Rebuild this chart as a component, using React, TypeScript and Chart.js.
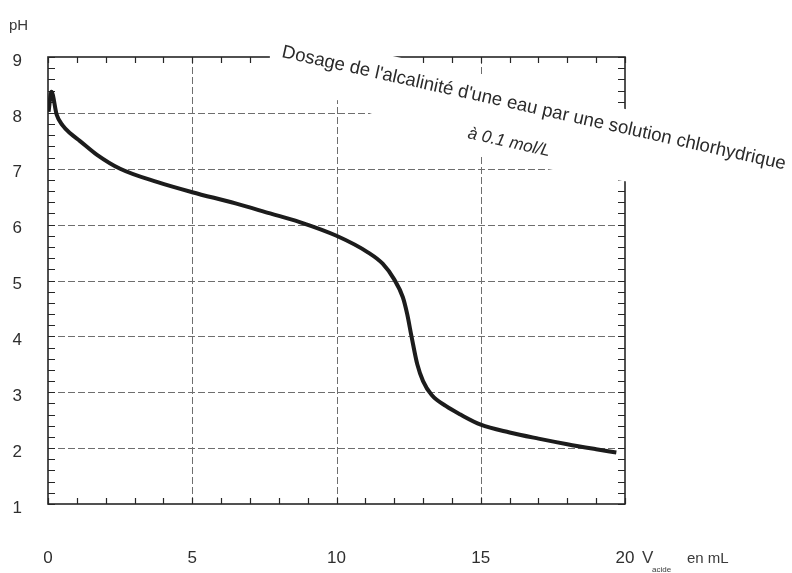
import React, { useEffect, useRef } from "react";
import { Chart, registerables } from "chart.js";

Chart.register(...registerables);

// ---- Data ----
const volumesML = [
  0.02, 0.12, 0.3, 0.5, 0.8, 1.1, 1.7, 2.5, 3.8, 5.0, 6.5, 7.7, 8.7, 10.0, 11.1,
  11.6, 12.0, 12.3, 12.45, 12.6, 12.8, 13.0, 13.3, 13.8, 14.3, 15.0, 16.0, 17.0,
  18.0, 19.0, 19.7,
];
const phValues = [
  8.02, 8.38, 7.97, 7.78, 7.62, 7.5, 7.25, 7.0, 6.76, 6.58, 6.38, 6.2, 6.05, 5.8,
  5.5, 5.3, 5.02, 4.7, 4.4, 4.0, 3.5, 3.2, 2.95, 2.75, 2.6, 2.42, 2.28, 2.17,
  2.07, 1.98, 1.92,
];

// axes
const xMin = 0;
const xMax = 20;
const xLabelStep = 5;
const xGridValues = [5, 10, 15];
const xMinorStep = 1;
const yMin = 1;
const yMax = 9;
const yLabelStep = 1;
const yGridValues = [2, 3, 4, 5, 6, 7, 8];
const yMinorStep = 0.2;

// texts
const titleLine1 = "Dosage de l'alcalinité d'une eau par une solution chlorhydrique";
const titleLine2 = "à 0.1 mol/L";
const yAxisTitle = "pH";
const xAxisTitleMain = "V";
const xAxisTitleSub = "acide";
const xAxisTitleUnit = "en mL";

// title anchors (in data units) and white backing under the title
const title1Anchor = [8.08, 9.0];
const title2Anchor = [14.52, 7.55];
const titleAngleDeg = 12.6;
const maskV = [7.69, 25.8, 25.8, 19.9, 18.16, 15.04, 11.23, 10.02, 7.69];
const maskPH = [9.52, 7.39, 6.53, 6.78, 6.91, 7.23, 7.98, 8.23, 8.71];

const FONT = '"Liberation Sans", Arial, sans-serif';

const decorPlugin = {
  id: "decor",
  beforeDatasetsDraw(chart: any) {
    const { ctx, chartArea: a, scales } = chart;
    const x = scales.x;
    const y = scales.y;
    ctx.save();
    // dashed grid
    ctx.strokeStyle = "#6e6e6e";
    ctx.lineWidth = 1;
    ctx.setLineDash([7, 3]);
    ctx.beginPath();
    for (const v of xGridValues) {
      const px = Math.round(x.getPixelForValue(v)) + 0.5;
      ctx.moveTo(px, a.top);
      ctx.lineTo(px, a.bottom);
    }
    for (const p of yGridValues) {
      const py = Math.round(y.getPixelForValue(p)) + 0.5;
      ctx.moveTo(a.left, py);
      ctx.lineTo(a.right, py);
    }
    ctx.stroke();
    ctx.setLineDash([]);
    // frame
    ctx.strokeStyle = "#262626";
    ctx.lineWidth = 1.6;
    ctx.strokeRect(a.left, a.top, a.right - a.left, a.bottom - a.top);
    // minor ticks
    ctx.lineWidth = 1.2;
    ctx.beginPath();
    const nx = Math.round((xMax - xMin) / xMinorStep);
    for (let i = 0; i <= nx; i++) {
      const px = Math.round(x.getPixelForValue(xMin + i * xMinorStep)) + 0.5;
      ctx.moveTo(px, a.bottom);
      ctx.lineTo(px, a.bottom - 6);
      ctx.moveTo(px, a.top);
      ctx.lineTo(px, a.top + 6);
    }
    const ny = Math.round((yMax - yMin) / yMinorStep);
    for (let i = 0; i <= ny; i++) {
      const py = Math.round(y.getPixelForValue(yMin + i * yMinorStep)) + 0.5;
      ctx.moveTo(a.left, py);
      ctx.lineTo(a.left + 7, py);
      ctx.moveTo(a.right, py);
      ctx.lineTo(a.right - 7, py);
    }
    ctx.stroke();
    ctx.restore();
  },
  afterDatasetsDraw(chart: any) {
    const { ctx, chartArea: a, scales } = chart;
    const x = scales.x;
    const y = scales.y;
    ctx.save();
    // white backing under the title
    ctx.fillStyle = "#ffffff";
    ctx.beginPath();
    maskV.forEach((v, i) => {
      const px = x.getPixelForValue(v);
      const py = y.getPixelForValue(maskPH[i]);
      if (i === 0) ctx.moveTo(px, py);
      else ctx.lineTo(px, py);
    });
    ctx.closePath();
    ctx.fill();

    // rotated title
    const rot = (titleAngleDeg * Math.PI) / 180;
    ctx.fillStyle = "#2a2a2a";
    ctx.textBaseline = "alphabetic";
    ctx.textAlign = "left";
    ctx.font = `18.6px ${FONT}`;
    ctx.save();
    ctx.translate(x.getPixelForValue(title1Anchor[0]), y.getPixelForValue(title1Anchor[1]));
    ctx.rotate(rot);
    ctx.fillText(titleLine1, 0, 0);
    ctx.restore();
    ctx.save();
    ctx.font = `italic 17px ${FONT}`;
    ctx.translate(x.getPixelForValue(title2Anchor[0]), y.getPixelForValue(title2Anchor[1]));
    ctx.rotate(rot);
    ctx.fillText(titleLine2, 0, 0);
    ctx.restore();

    // y-axis title
    ctx.fillStyle = "#3a3a3a";
    ctx.font = `15px ${FONT}`;
    ctx.fillText(yAxisTitle, a.left - 39, a.top - 27);

    // x-axis title
    ctx.font = `17px ${FONT}`;
    ctx.fillText(xAxisTitleMain, a.right + 17, a.bottom + 59);
    ctx.font = `8px ${FONT}`;
    ctx.fillText(xAxisTitleSub, a.right + 27, a.bottom + 68);
    ctx.font = `15px ${FONT}`;
    ctx.fillText(xAxisTitleUnit, a.right + 62, a.bottom + 59);
    ctx.restore();
  },
};

export default function App() {
  const canvasRef = useRef<HTMLCanvasElement | null>(null);

  useEffect(() => {
    document.body.style.margin = "0";
    document.body.style.background = "#ffffff";
    const canvas = canvasRef.current;
    if (!canvas) return;
    const points = volumesML.map((v, i) => ({ x: v, y: phValues[i] }));
    const chart = new Chart(canvas, {
      type: "line",
      data: {
        datasets: [
          {
            label: "pH",
            data: points,
            borderColor: "#1c1c1c",
            borderWidth: 4,
            pointRadius: 0,
            cubicInterpolationMode: "monotone",
            fill: false,
          },
        ],
      },
      options: {
        animation: false,
        responsive: false,
        maintainAspectRatio: false,
        layout: { padding: { top: 57, right: 167, left: 0, bottom: 0 } },
        plugins: {
          legend: { display: false },
          title: { display: false },
          tooltip: { enabled: false },
        },
        scales: {
          x: {
            type: "linear",
            min: xMin,
            max: xMax,
            grid: { display: false },
            border: { display: false },
            ticks: {
              stepSize: xLabelStep,
              color: "#2e2e2e",
              font: { family: FONT, size: 17 },
              padding: 36,
              maxRotation: 0,
            },
            afterFit: (scale: any) => {
              scale.height = 69;
            },
          },
          y: {
            type: "linear",
            min: yMin,
            max: yMax,
            grid: { display: false },
            border: { display: false },
            ticks: {
              stepSize: yLabelStep,
              color: "#2e2e2e",
              font: { family: FONT, size: 17 },
              padding: 18,
              labelOffset: 4,
            },
            afterFit: (scale: any) => {
              scale.width = 48;
            },
          },
        },
      },
      plugins: [decorPlugin],
    });
    return () => chart.destroy();
  }, []);

  return (
    <div style={{ width: 792, height: 573, background: "#fff" }}>
      <canvas ref={canvasRef} width={792} height={573} style={{ display: "block" }} />
    </div>
  );
}
